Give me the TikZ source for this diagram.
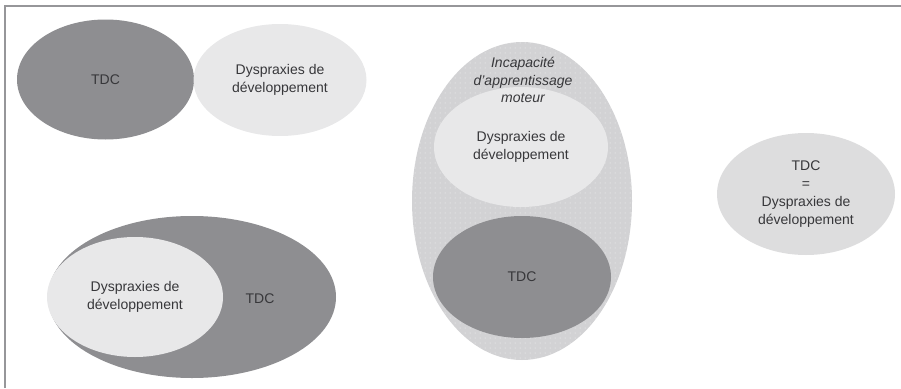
\documentclass[tikz,border=0pt]{standalone}
\usepackage{fontspec}
\setmainfont{Liberation Sans}
\usetikzlibrary{shapes.geometric,patterns.meta}
\definecolor{tdcgray}{RGB}{142,142,145}
\definecolor{dysgray}{RGB}{232,232,233}
\definecolor{motgray}{RGB}{210,210,212}
\definecolor{eqgray}{RGB}{221,221,222}
\definecolor{txtgray}{RGB}{55,55,58}
\definecolor{framegray}{RGB}{150,150,153}

\begin{document}
\begin{tikzpicture}[x=1pt, y=-1pt,
    bubble/.style={ellipse, inner sep=0pt, align=center, text=txtgray,
        font=\fontsize{14}{18}\selectfont},
    tdcbubble/.style={bubble, fill=tdcgray},
    dysbubble/.style={bubble, fill=dysgray},
    lbl/.style={text=txtgray, align=center, font=\fontsize{14}{18}\selectfont}]
    \useasboundingbox (0,0) rectangle (901,388);

    % Frame
    \draw[framegray, line width=2pt] (5,388) -- (5,6) -- (901,6);

    % Disjoint
    \node[tdcbubble, minimum width=177pt, minimum height=120pt] (tdcA) at (105.5,79.5) {TDC};
    \node[dysbubble, minimum width=173pt, minimum height=112pt] (dysA) at (280,80) {Dyspraxies de\\développement};

    % Inclusion
    \node[tdcbubble, minimum width=288pt, minimum height=162pt] (tdcB) at (192,297) {};
    \node[dysbubble, minimum width=176pt, minimum height=120pt] (dysB) at (135,297) {Dyspraxies de\\développement};
    \node[lbl] (tdcBlbl) at (260,299) {TDC};

    % Motor learning
    \node[bubble, fill=motgray, minimum width=220pt, minimum height=318pt] (mot) at (522,201) {};
    \fill[pattern={Dots[radius=0.5pt, distance=5pt]}, pattern color=white!80!motgray]
        (mot.center) ellipse [x radius=110pt, y radius=159pt];
    \node[dysbubble, minimum width=174pt, minimum height=120pt] (dysC) at (521,147) {Dyspraxies de\\développement};
    \node[tdcbubble, minimum width=178pt, minimum height=122pt] (tdcC) at (522,277) {TDC};
    \node[lbl, font=\fontsize{14}{17.5}\selectfont\itshape] (motlbl) at (523,80) {Incapacité\\d'apprentissage\\moteur};

    % Equivalence
    \node[bubble, fill=eqgray, minimum width=178pt, minimum height=122pt] (eq) at (806,194) {TDC\\=\\Dyspraxies de\\développement};
\end{tikzpicture}
\end{document}
